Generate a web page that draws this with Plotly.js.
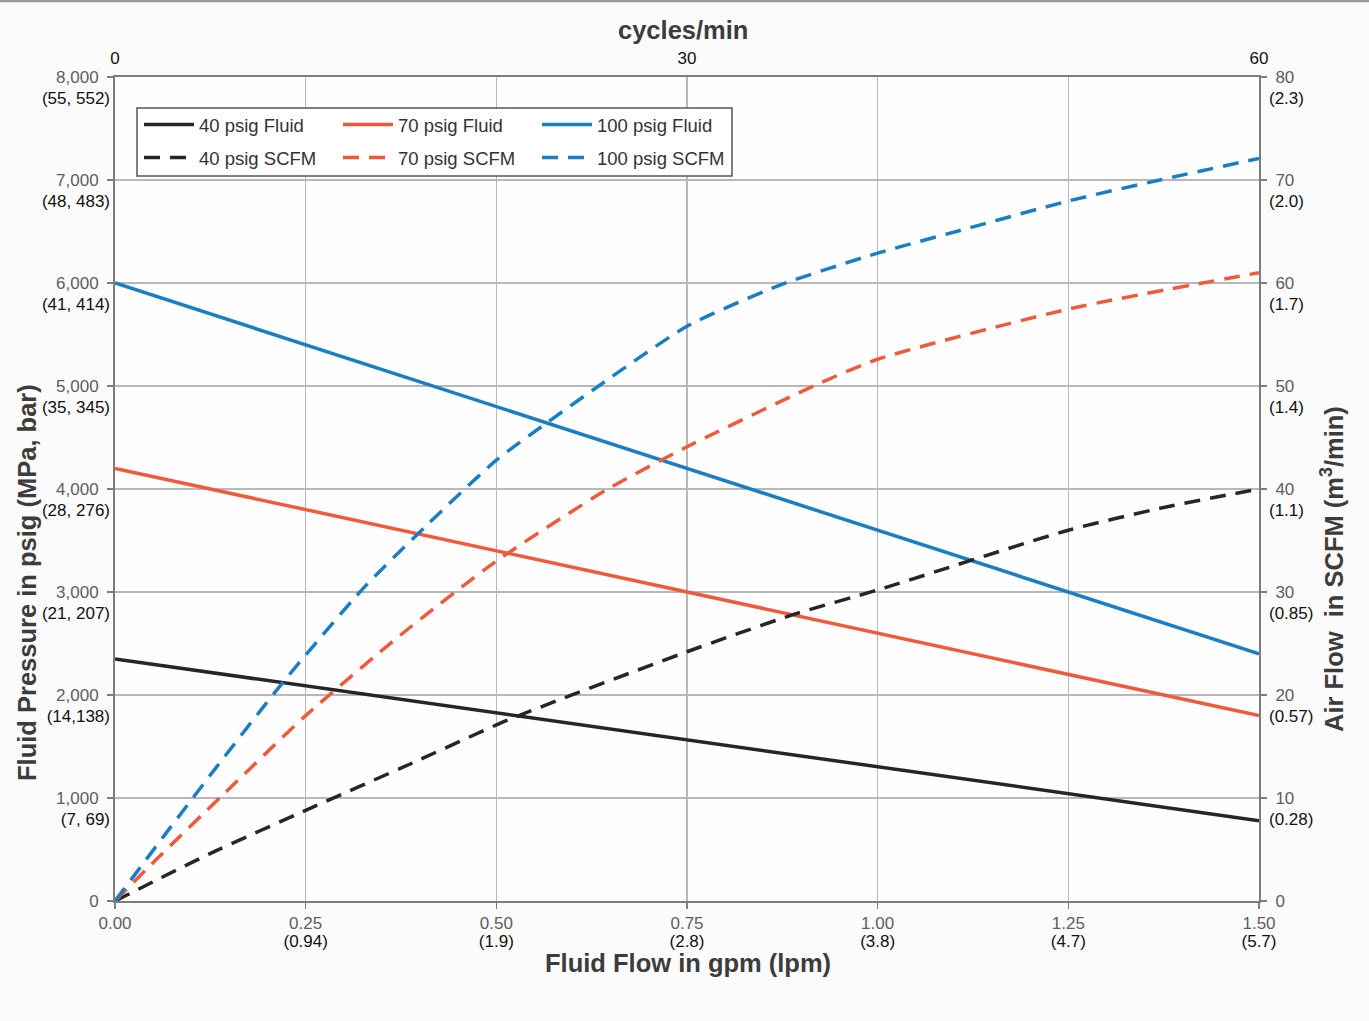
<!DOCTYPE html>
<html>
<head>
<meta charset="utf-8">
<script src="https://cdn.plot.ly/plotly-3.0.1.min.js"></script>
<style>html,body{margin:0;padding:0;background:#fbfbfc;}</style>
</head>
<body>
<div id="chart" style="width:1369px;height:1021px;"></div>
<script>
// ---------- data ----------
const flowGpm = [0, 1.5];
const fluid40 = [2350, 780];
const fluid70 = [4200, 1800];
const fluid100 = [6000, 2400];

const scfm40X = [0, 0.1245, 0.25, 0.387, 0.516, 0.75, 0.889, 1.0, 1.25, 1.375, 1.5];
const scfm40 = [0, 4.6, 8.8, 13.3, 17.6, 24.2, 27.8, 30.2, 36.0, 38.2, 40.0];

const scfm70X = [0, 0.055, 0.14, 0.25, 0.374, 0.5, 0.644, 0.75, 0.916, 1.0, 1.252, 1.5];
const scfm70 = [0, 4.1, 10.2, 18.0, 25.8, 33.0, 39.9, 44.1, 50.0, 52.6, 57.5, 61.0];

const scfm100X = [0, 0.063, 0.133, 0.221, 0.326, 0.409, 0.5, 0.562, 0.636, 0.75, 0.872, 1.0, 1.108, 1.252, 1.37, 1.5];
const scfm100 = [0, 6.2, 13.0, 21.3, 30.4, 36.5, 42.8, 46.2, 50.1, 55.8, 59.8, 62.9, 65.1, 68.0, 70.0, 72.1];

const seriesNames = ['40 psig Fluid', '70 psig Fluid', '100 psig Fluid', '40 psig SCFM', '70 psig SCFM', '100 psig SCFM'];

// tick labels
const xTickVals = [0, 0.25, 0.5, 0.75, 1.0, 1.25, 1.5];
const xTickMain = ['0.00', '0.25', '0.50', '0.75', '1.00', '1.25', '1.50'];
const xTickSub = ['', '(0.94)', '(1.9)', '(2.8)', '(3.8)', '(4.7)', '(5.7)'];

const yTickVals = [0, 1000, 2000, 3000, 4000, 5000, 6000, 7000, 8000];
const yTickMain = ['0', '1,000', '2,000', '3,000', '4,000', '5,000', '6,000', '7,000', '8,000'];
const yTickSub = ['', '(7, 69)', '(14,138)', '(21, 207)', '(28, 276)', '(35, 345)', '(41, 414)', '(48, 483)', '(55, 552)'];

const y2TickVals = [0, 10, 20, 30, 40, 50, 60, 70, 80];
const y2TickMain = ['0', '10', '20', '30', '40', '50', '60', '70', '80'];
const y2TickSub = ['', '(0.28)', '(0.57)', '(0.85)', '(1.1)', '(1.4)', '(1.7)', '(2.0)', '(2.3)'];

const cycTickVals = [0, 30, 60];
const cycTickText = ['0', '30', '60'];

// keep only ticks that carry a second-line label
function subTicks(vals, texts) {
  const v = [], t = [];
  vals.forEach((val, i) => { if (texts[i]) { v.push(val); t.push(texts[i]); } });
  return {tickvals: v, ticktext: t};
}

// ---------- styling ----------
const FONT = 'Liberation Sans, Arial, Helvetica, sans-serif';
const C_BLACK = '#262626', C_RED = '#ef5a3b', C_BLUE = '#1b7ec3';
const GRAY_TXT = '#5e5e5e';

const DASH = '16px,10px';
const traces = [
  {x: flowGpm, y: fluid40, name: seriesNames[0], mode: 'lines', line: {color: C_BLACK, width: 3.5}, legend: 'legend'},
  {x: flowGpm, y: fluid70, name: seriesNames[1], mode: 'lines', line: {color: C_RED, width: 3.5}, legend: 'legend'},
  {x: flowGpm, y: fluid100, name: seriesNames[2], mode: 'lines', line: {color: C_BLUE, width: 3.5}, legend: 'legend'},
  {x: scfm40X, y: scfm40, name: seriesNames[3], mode: 'lines', yaxis: 'y2', line: {color: C_BLACK, width: 3.5, dash: DASH, shape: 'spline', smoothing: 0.6}, legend: 'legend2'},
  {x: scfm70X, y: scfm70, name: seriesNames[4], mode: 'lines', yaxis: 'y2', line: {color: C_RED, width: 3.5, dash: DASH, shape: 'spline', smoothing: 0.6}, legend: 'legend2'},
  {x: scfm100X, y: scfm100, name: seriesNames[5], mode: 'lines', yaxis: 'y2', line: {color: C_BLUE, width: 3.5, dash: DASH, shape: 'spline', smoothing: 0.6}, legend: 'legend2'},
  // empty carriers so the extra label axes are drawn
  {x: [0, 60], y: [null, null], xaxis: 'x2', mode: 'lines', showlegend: false, hoverinfo: 'skip'},
  {x: [0, 1.5], y: [null, null], xaxis: 'x3', mode: 'lines', showlegend: false, hoverinfo: 'skip'},
  {x: [0, 1.5], y: [null, null], yaxis: 'y3', mode: 'lines', showlegend: false, hoverinfo: 'skip'},
  {x: [0, 1.5], y: [null, null], yaxis: 'y4', mode: 'lines', showlegend: false, hoverinfo: 'skip'}
];

const W = 1369, H = 1021, L = 115, R = 110, T = 77, B = 120;
const pw = W - L - R, ph = H - T - B;
const px = v => (v - L) / pw;
const py = v => (H - B - v) / ph;

const mainFont = {family: FONT, size: 17, color: GRAY_TXT};
const subFont = {family: FONT, size: 17, color: '#111'};
const legendCommon = {
  orientation: 'h', xanchor: 'left', yanchor: 'middle',
  bgcolor: 'rgba(0,0,0,0)', borderwidth: 0,
  font: {family: FONT, size: 18.5, color: '#333'},
  itemwidth: 50, entrywidth: 134, entrywidthmode: 'pixels',
  itemclick: false, itemdoubleclick: false
};
const titleFont = {family: FONT, size: 25.5, color: '#3c3c3c'};
const AX = '#7d7d7d';

const layout = {
  width: W, height: H,
  margin: {l: L, r: R, t: T, b: B, pad: 0},
  paper_bgcolor: '#fbfbfc',
  plot_bgcolor: '#fefefe',
  showlegend: true,
  xaxis: {
    range: [0, 1.5], tickvals: xTickVals, ticktext: xTickMain,
    showgrid: true, gridcolor: '#b8b8b8', gridwidth: 1.5,
    showline: true, linecolor: AX, linewidth: 2, mirror: true,
    ticks: 'outside', ticklen: 6, tickwidth: 1.5, tickcolor: AX,
    tickfont: mainFont, zeroline: false, fixedrange: true
  },
  xaxis3: Object.assign({
    overlaying: 'x', side: 'bottom', anchor: 'y', range: [0, 1.5],
    showgrid: false, showline: false, ticks: '', zeroline: false,
    tickfont: subFont, ticklabelstandoff: 28, fixedrange: true
  }, subTicks(xTickVals, xTickSub)),
  xaxis2: {
    overlaying: 'x', side: 'top', anchor: 'y', range: [0, 60],
    tickvals: cycTickVals, ticktext: cycTickText,
    showgrid: false, showline: false, ticks: '', zeroline: false,
    tickfont: subFont, ticklabelstandoff: 9, fixedrange: true
  },
  yaxis: {
    range: [0, 8000], tickvals: yTickVals, ticktext: yTickMain,
    showgrid: true, gridcolor: '#b8b8b8', gridwidth: 1.5,
    showline: true, linecolor: AX, linewidth: 2,
    ticks: 'outside', ticklen: 6, tickwidth: 1.5, tickcolor: AX,
    tickfont: mainFont, zeroline: false, fixedrange: true, ticklabelstandoff: 5
  },
  yaxis3: Object.assign({
    overlaying: 'y', side: 'left', anchor: 'x', range: [0, 8000],
    showgrid: false, showline: false, ticks: '', zeroline: false,
    tickfont: subFont, fixedrange: true, ticklabelshift: 21, ticklabelstandoff: 4
  }, subTicks(yTickVals, yTickSub)),
  yaxis2: {
    overlaying: 'y', side: 'right', anchor: 'x', range: [0, 80], tickvals: y2TickVals, ticktext: y2TickMain,
    showgrid: false, showline: true, linecolor: AX, linewidth: 2,
    ticks: 'outside', ticklen: 6, tickwidth: 1.5, tickcolor: AX,
    tickfont: mainFont, zeroline: false, fixedrange: true, ticklabelstandoff: 5
  },
  yaxis4: Object.assign({
    overlaying: 'y', side: 'right', anchor: 'x', range: [0, 80],
    showgrid: false, showline: false, ticks: '', zeroline: false,
    tickfont: subFont, fixedrange: true, ticklabelshift: 21, ticklabelstandoff: 9
  }, subTicks(y2TickVals, y2TickSub)),
  legend: Object.assign({x: px(139), y: py(125)}, legendCommon),
  legend2: Object.assign({x: px(139), y: py(158)}, legendCommon),
  shapes: [
    {type: 'rect', xref: 'paper', yref: 'paper', x0: px(137), x1: px(732), y0: py(176), y1: py(108),
     line: {color: '#555', width: 1.5}, fillcolor: '#ffffff', layer: 'above'},
    {type: 'line', xref: 'paper', yref: 'paper', x0: px(0), x1: px(W), y0: py(1), y1: py(1),
     line: {color: '#9a9a9a', width: 2.5}, layer: 'above'}
  ],
  annotations: [
    {text: '<b>cycles/min</b>', xref: 'paper', yref: 'paper', x: px(683), y: py(30), showarrow: false, font: titleFont, xanchor: 'center', yanchor: 'middle'},
    {text: '<b>Fluid Flow in gpm (lpm)</b>', xref: 'paper', yref: 'paper', x: px(688), y: py(963), showarrow: false, font: titleFont, xanchor: 'center', yanchor: 'middle'},
    {text: '<b>Fluid Pressure in psig (MPa, bar)</b>', xref: 'paper', yref: 'paper', x: px(27), y: py(583), showarrow: false, font: titleFont, textangle: -90, xanchor: 'center', yanchor: 'middle'},
    {text: '<b>Air Flow&nbsp; in SCFM (m<sup>3</sup>/min)</b>', xref: 'paper', yref: 'paper', x: px(1332), y: py(569), showarrow: false, font: titleFont, textangle: -90, xanchor: 'center', yanchor: 'middle'}
  ]
};

Plotly.newPlot('chart', traces, layout, {displayModeBar: false, staticPlot: true});
</script>
</body>
</html>
